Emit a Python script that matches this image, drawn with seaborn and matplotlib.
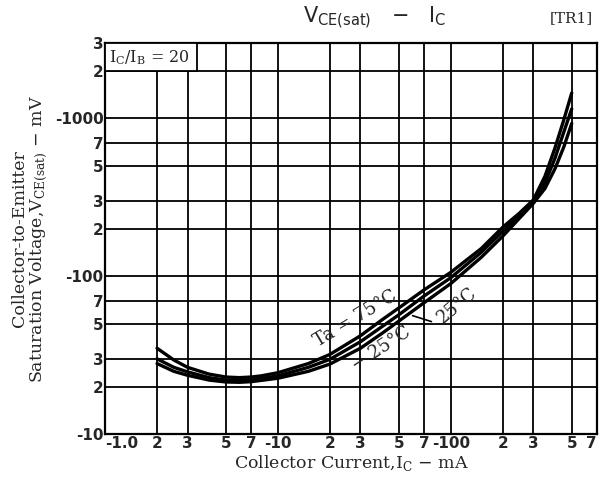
import matplotlib
matplotlib.use("Agg")
import matplotlib.pyplot as plt
import pandas as pd
import seaborn as sns
from matplotlib.patches import Rectangle

# collector current, mA (plotted as magnitude on log axis)
ic = [2, 2.5, 3, 4, 5, 6, 7, 8, 10, 15, 20, 30, 40, 50, 70, 100,
      150, 200, 250, 300, 350, 400, 450, 500]

# saturation voltage, mV, for each ambient temperature
v_75 = [35, 29.5, 26.5, 24, 23, 22.8, 23, 23.4, 24.5, 28, 32, 42, 53, 63,
        82, 106, 150, 205, 252, 305, 430, 650, 980, 1450]
v_25 = [30, 26.5, 24.8, 22.8, 22, 21.9, 22.1, 22.5, 23.4, 26.5, 29.8, 38.5,
        48, 57, 75, 98, 142, 193, 244, 297, 390, 560, 820, 1150]
v_m25 = [28, 25, 23.6, 22, 21.4, 21.3, 21.5, 21.9, 22.6, 25, 27.8, 35,
         43.5, 52, 68, 90, 132, 180, 234, 290, 360, 480, 660, 930]

x_ticks = [1, 2, 3, 5, 7, 10, 20, 30, 50, 70, 100, 200, 300, 500, 700]
x_labels = ["-1.0", "2", "3", "5", "7", "-10", "2", "3", "5", "7",
            "-100", "2", "3", "5", "7"]
y_ticks = [10, 20, 30, 50, 70, 100, 200, 300, 500, 700, 1000, 2000, 3000]
y_labels = ["-10", "2", "3", "5", "7", "-100", "2", "3", "5", "7",
            "-1000", "2", "3"]

df = pd.concat([
    pd.DataFrame({"ic": ic, "v": v_75, "ta": "75"}),
    pd.DataFrame({"ic": ic, "v": v_25, "ta": "25"}),
    pd.DataFrame({"ic": ic, "v": v_m25, "ta": "-25"}),
])

sns.set_style("white")
plt.rcParams["font.family"] = ["DejaVu Sans"]

fig = plt.figure(figsize=(6.0, 4.9), dpi=100)
ax = fig.add_axes([0.175, 0.114, 0.82, 0.798])

sns.lineplot(data=df, x="ic", y="v", hue="ta", palette=["black"] * 3,
             legend=False, sort=False, estimator=None, linewidth=2.4, ax=ax,
             zorder=3)

ax.set_xscale("log")
ax.set_yscale("log")
ax.set_xlim(1, 700)
ax.set_ylim(10, 3000)

ax.set_xticks(x_ticks)
ax.set_xticklabels(x_labels, fontsize=11, fontweight="bold")
ax.set_yticks(y_ticks)
ax.set_yticklabels(y_labels, fontsize=11, fontweight="bold")
ax.minorticks_off()
ax.tick_params(length=0, pad=1)
xt = ax.xaxis.get_majorticklabels()
xt[0].set_horizontalalignment("left")
xt[-1].set_horizontalalignment("right")

ax.grid(True, color="black", linewidth=1.3)
ax.set_axisbelow(True)
for s in ax.spines.values():
    s.set_color("black")
    s.set_linewidth(1.6)

ax.set_xlabel(r"Collector Current,I$_\mathregular{C}$ $-$ mA",
              family="DejaVu Serif", fontsize=12.5, labelpad=2)
ax.set_ylabel("Collector-to-Emitter\n"
              r"Saturation Voltage,V$_\mathregular{CE(sat)}$ $-$ mV",
              family="DejaVu Serif", fontsize=12.5, labelpad=4,
              linespacing=0.95)

# condition box in the upper left corner
ax.add_patch(Rectangle((1, 2000), 2.4, 1000, facecolor="white",
                       edgecolor="black", linewidth=1.3, zorder=4))
ax.text(1.06, 2430, r"I$_\mathregular{C}$/I$_\mathregular{B}$ = 20",
        family="DejaVu Serif", fontsize=11.5, va="center", zorder=5)

# curve labels
ax.text(27.9, 53.5, "Ta = 75°C", family="DejaVu Serif", fontsize=13,
        rotation=31, ha="center", va="center", zorder=5)
ax.text(39.4, 35, "− 25°C", family="DejaVu Serif", fontsize=13,
        rotation=33, ha="center", va="center", zorder=5)
ax.text(108, 65, "25°C", family="DejaVu Serif", fontsize=13,
        rotation=40, ha="center", va="center", zorder=5)
ax.annotate("", xy=(58, 57), xytext=(80, 51),
            arrowprops=dict(arrowstyle="-", color="black", lw=1.2))

fig.text(0.625, 0.963, r"V$_\mathregular{CE(sat)}$   $-$   I$_\mathregular{C}$",
         fontsize=15, ha="center", va="center")
fig.text(0.953, 0.963, "[TR1]", family="DejaVu Serif", fontsize=11,
         ha="center", va="center")

fig.savefig("out.png", dpi=100)
